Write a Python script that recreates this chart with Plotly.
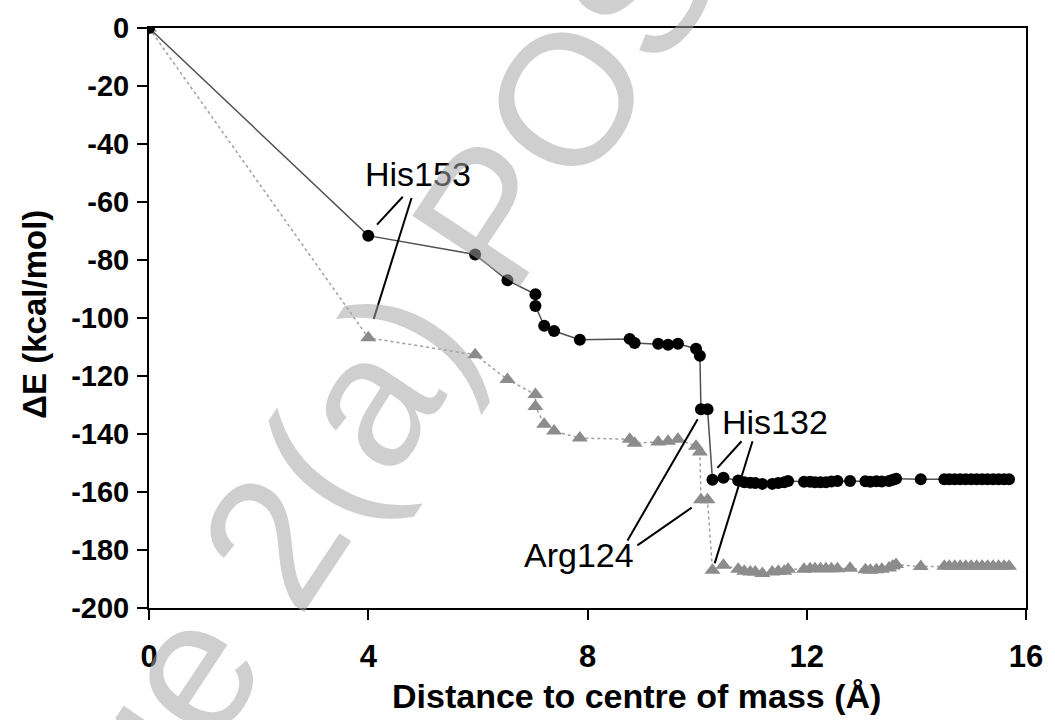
import plotly.graph_objects as go

# distance to centre of mass (Å)
distance = [0, 4.0, 5.95, 6.54, 7.05, 7.05, 7.21, 7.39, 7.86, 8.77, 8.86, 9.29, 9.47, 9.65,
            9.98, 10.05, 10.07, 10.19, 10.28, 10.48, 10.75, 10.86, 10.97, 11.06, 11.19, 11.37,
            11.48, 11.59, 11.66, 11.95, 12.06, 12.15, 12.25, 12.35, 12.45, 12.56, 12.79, 13.07,
            13.16, 13.27, 13.37, 13.50, 13.57, 13.63, 14.08, 14.51, 14.60, 14.70, 14.80, 14.90,
            15.00, 15.10, 15.20, 15.30, 15.40, 15.50, 15.60, 15.69]

# black circles, solid line
energy_circles = [0, -71.6, -78.1, -87.0, -91.8, -95.9, -102.7, -104.5, -107.5, -107.2, -108.6,
                  -108.9, -109.2, -108.9, -110.6, -113.0, -131.5, -131.5, -155.8, -155.1, -156.0,
                  -156.6, -156.8, -156.9, -157.2, -157.2, -156.9, -156.6, -156.2, -156.5, -156.5,
                  -156.6, -156.6, -156.6, -156.4, -156.2, -156.2, -156.3, -156.5, -156.3, -156.4,
                  -156.2, -155.8, -155.4, -155.6, -155.6, -155.6, -155.6, -155.6, -155.6, -155.6,
                  -155.6, -155.6, -155.6, -155.6, -155.6, -155.6, -155.6]

# grey triangles, dotted line
energy_triangles = [0, -106.8, -112.7, -121.2, -126.4, -130.5, -136.6, -139.0, -141.4, -141.8,
                    -143.2, -142.8, -142.5, -141.8, -144.2, -146.2, -162.7, -162.7, -187.0, -185.3,
                    -186.6, -187.3, -187.6, -187.6, -188.1, -187.6, -187.3, -187.3, -186.6, -186.6,
                    -186.5, -186.5, -186.5, -186.5, -186.5, -186.5, -186.3, -186.8, -187.0, -186.8,
                    -186.6, -186.2, -185.5, -185.0, -185.7, -185.6, -185.6, -185.6, -185.6, -185.6,
                    -185.6, -185.6, -185.6, -185.6, -185.6, -185.6, -185.6, -185.6]

x_ticks = [0, 4, 8, 12, 16]
y_ticks = [0, -20, -40, -60, -80, -100, -120, -140, -160, -180, -200]

x_title = "Distance to centre of mass (Å)"
y_title = "ΔE (kcal/mol)"

# residue labels (text, x, y) and their leader lines (x0, y0, x1, y1)
label_text = ["His153", "His132", "Arg124"]
label_x = [4.90, 11.42, 7.84]
label_y = [-50.5, -136.0, -181.8]
leaders = [
    (4.16, -67.8, 4.63, -58.2),
    (4.79, -58.6, 4.10, -100.3),
    (10.81, -142.5, 10.37, -151.7),
    (11.01, -142.5, 10.32, -184.6),
    (8.73, -176.7, 10.01, -134.9),
    (8.91, -178.4, 9.90, -165.4),
]

FONT = "Liberation Sans, Arial, Helvetica, sans-serif"

fig = go.Figure()
fig.add_trace(go.Scatter(
    x=distance, y=energy_triangles, mode="lines+markers",
    line=dict(color="#a0a0a0", width=1.5, dash="3px,3px"),
    marker=dict(symbol="triangle-up", size=14, color="#8c8c8c"),
    showlegend=False))
fig.add_trace(go.Scatter(
    x=distance, y=energy_circles, mode="lines+markers",
    line=dict(color="#505050", width=1.5),
    marker=dict(symbol="circle", size=12, color="#000000"),
    showlegend=False))

for (x0, y0, x1, y1) in leaders:
    fig.add_shape(type="line", xref="x", yref="y", x0=x0, y0=y0, x1=x1, y1=y1,
                  line=dict(color="#000000", width=2))

for t, lx, ly in zip(label_text, label_x, label_y):
    fig.add_annotation(x=lx, y=ly, xref="x", yref="y", text=t, showarrow=False,
                       font=dict(family=FONT, size=34, color="#000000"),
                       xanchor="center", yanchor="middle")

# axis titles (placed as in the reference)
fig.add_annotation(x=0.556, y=-0.152, xref="paper", yref="paper", text="<b>" + x_title + "</b>",
                   showarrow=False, xanchor="center", yanchor="middle",
                   font=dict(family=FONT, size=34, color="#000000"))
fig.add_annotation(x=-0.131, y=0.506, xref="paper", yref="paper", text="<b>" + y_title + "</b>",
                   showarrow=False, textangle=-90, xanchor="center", yanchor="middle",
                   font=dict(family=FONT, size=33, color="#000000"))

# watermark
fig.add_annotation(x=0.2007, y=0.25, xref="paper", yref="paper", text="Page 2(a) POS",
                   showarrow=False, textangle=-56.5, xanchor="center", yanchor="middle",
                   font=dict(family=FONT, size=187, color="rgba(167,167,167,0.54)"))

fig.update_layout(
    width=1055, height=720,
    margin=dict(l=149, r=19, t=24, b=112),
    paper_bgcolor="white", plot_bgcolor="white",
    font=dict(family=FONT, color="#000000"),
)
fig.update_xaxes(
    range=[0, 16], tickmode="array", tickvals=x_ticks, ticktext=[str(v) for v in x_ticks],
    showgrid=False, zeroline=False, showline=True, linecolor="#000000", linewidth=2,
    mirror=True, ticks="outside", ticklen=10, tickwidth=2, tickcolor="#000000",
    tickfont=dict(family=FONT, size=31, color="#000000", weight="bold"),
    ticklabelstandoff=10,
)
fig.update_yaxes(
    range=[-200, 0], tickmode="array", tickvals=y_ticks, ticktext=[str(v) for v in y_ticks],
    showgrid=False, zeroline=False, showline=True, linecolor="#000000", linewidth=2,
    mirror=True, ticks="outside", ticklen=10, tickwidth=2, tickcolor="#000000",
    tickfont=dict(family=FONT, size=29, color="#000000", weight="bold"),
    ticklabelstandoff=2,
)

fig.write_html("out.html")
